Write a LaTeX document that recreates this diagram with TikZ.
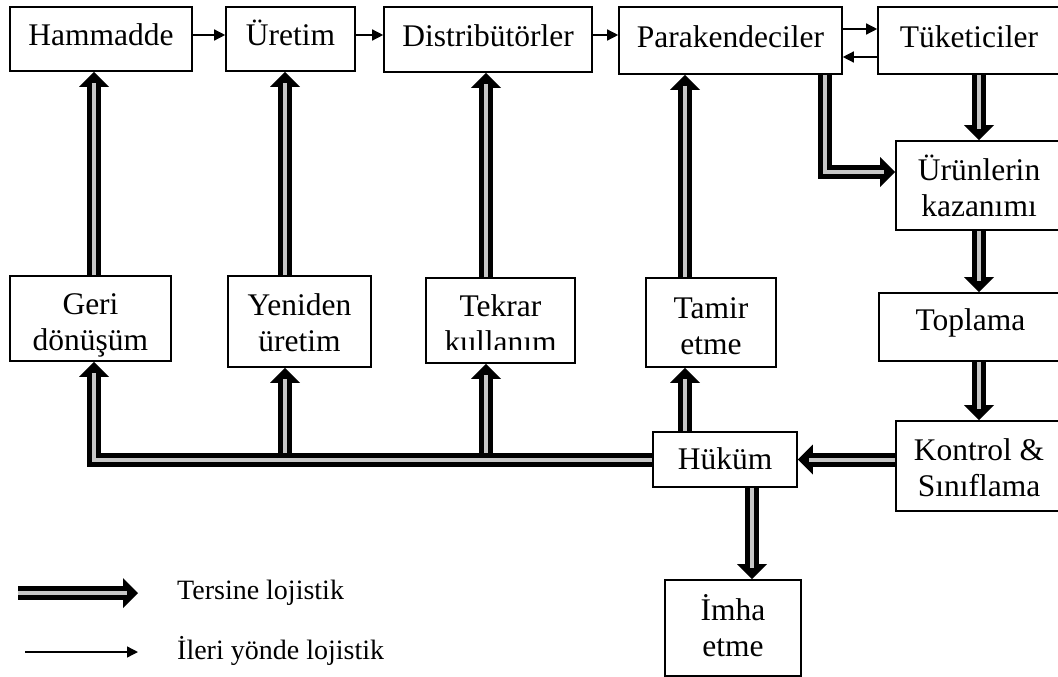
\documentclass[tikz,border=0pt]{standalone}
\usepackage{fontspec}
\setmainfont{Liberation Serif}
\usetikzlibrary{arrows.meta}
% reverse-logistics connector: black outer band with a grey core
\newcommand\revlink[1]{\draw[revout] #1; \draw[revin] #1;}
% two-line label; [#1] is the height above the first line, #2 the depth below the last
\newcommand\duoline[4][35pt]{\rule{0pt}{#1}#3\\#4\rule[-#2]{0pt}{#2}}
\begin{document}
\begin{tikzpicture}[x=1pt,y=-1pt,
  box/.style={draw=black, line width=1.6pt, fill=white, inner sep=0pt, align=center,
              font=\fontsize{31.5}{36}\selectfont},
  one/.style={text height=24pt, text depth=#1},
  one/.default=10pt,
  txt/.style={inner sep=0pt, align=center, font=\fontsize{31.5}{36}\selectfont},
  fwd/.style={line width=1.4pt, -{Triangle[length=11pt,width=11pt]}},
  revout/.style={line width=14pt, draw=black, -{Triangle[length=15pt,width=30pt,line width=0pt]}},
  revin/.style={line width=4pt, draw=gray!45, shorten >=11pt},
  lbl/.style={anchor=west, inner sep=0pt, font=\fontsize{28}{34}\selectfont}
]
\useasboundingbox (0,0) rectangle (1058,677);

% top row: forward chain
\node[box, one, minimum width=182pt, minimum height=64pt] (ham) at (101,39) {Hammadde};
\node[box, one, minimum width=129pt, minimum height=64pt] (ure) at (290.5,39) {Üretim};
\node[box, one, minimum width=208pt, minimum height=65pt] (dis) at (488,39.5) {Distribütörler};
\node[box, one, minimum width=223pt, minimum height=67pt] (par) at (730.5,40.5) {Parakendeciler};
\node[box, one, minimum width=182pt, minimum height=67pt] (tuk) at (969,40.5) {Tüketiciler};

% recovery options
\node[box, minimum width=161pt, minimum height=85pt] (geri) at (90.5,318.5) {\duoline{6pt}{Geri}{dönüşüm}};
\node[box, minimum width=143pt, minimum height=91pt] (yen) at (299.5,321.5) {\duoline{12pt}{Yeniden}{üretim}};
\node[box, minimum width=149pt, minimum height=85pt] (tek) at (500.5,320.5) {};
\begin{scope}
  \clip (tek.north west) rectangle ([yshift=14pt]tek.south east);
  \node[txt] (tektext) at (tek.center) {\duoline[30pt]{3pt}{Tekrar}{kullanım}};
\end{scope}
\node[box, minimum width=130pt, minimum height=89pt] (tam) at (711,322.5) {\duoline{8pt}{Tamir}{etme}};

% right-hand return chain
\node[box, minimum width=166pt, minimum height=89pt] (uru) at (979,185.5) {\duoline{10pt}{Ürünlerin}{kazanımı}};
\node[box, one=18pt, minimum width=183pt, minimum height=68pt] (top) at (970.5,327) {Toplama};
\node[box, minimum width=166pt, minimum height=90pt] (kon) at (979,466) {\duoline{11pt}{Kontrol \&}{Sınıflama}};
\node[box, one=5pt, minimum width=144pt, minimum height=55pt] (huk) at (725,459.5) {Hüküm};
\node[box, minimum width=136pt, minimum height=96pt] (imh) at (733,628) {\duoline{14pt}{İmha}{etme}};

% column and junction coordinates
\coordinate (xa) at (94,0);
\coordinate (xb) at (285,0);
\coordinate (xc) at (486,0);
\coordinate (xd) at (685,0);
\coordinate (xe) at (825,0);
\coordinate (xf) at (979,0);
\coordinate (xg) at (752,0);
\coordinate (bj) at (0,453);
\coordinate (pturn) at (0,172);

% forward flow
\draw[fwd] ([yshift=4pt]ham.east) -- ([yshift=4pt]ham.east -| ure.west);
\draw[fwd] ([yshift=4pt]ure.east) -- ([yshift=4pt]ure.east -| dis.west);
\draw[fwd] ([yshift=4.5pt]dis.east) -- ([yshift=4.5pt]dis.east -| par.west);
\draw[fwd] ([yshift=11.5pt]par.east) -- ([yshift=11.5pt]par.east -| tuk.west);
\draw[fwd] ([yshift=-16.5pt]tuk.west) -- ([yshift=-16.5pt]tuk.west -| par.east);

% reverse flow
\revlink{(geri.north -| xa) -- (ham.south -| xa)}
\revlink{(yen.north -| xb) -- (ure.south -| xb)}
\revlink{(tek.north -| xc) -- (dis.south -| xc)}
\revlink{(tam.north -| xd) -- (par.south -| xd)}
\revlink{(par.south -| xe) |- (uru.west |- pturn)}
\revlink{(tuk.south -| xf) -- (uru.north -| xf)}
\revlink{(uru.south -| xf) -- (top.north -| xf)}
\revlink{(top.south -| xf) -- (kon.north -| xf)}
\revlink{(kon.west |- huk.east) -- (huk.east)}
\revlink{(huk.west) -| (geri.south -| xa)}
\revlink{(bj -| xb) -- (yen.south -| xb)}
\revlink{(bj -| xc) -- (tek.south -| xc)}
\revlink{(huk.north -| xd) -- (tam.south -| xd)}
\revlink{(huk.south -| xg) -- (imh.north -| xg)}

% legend
\coordinate (la) at (18,593);
\coordinate (lb) at (138,593);
\coordinate (lc) at (25,652);
\coordinate (ld) at (138,652);
\revlink{(la) -- (lb)}
\draw[fwd] (lc) -- (ld);
\node[lbl] (legrev) at (177,593) {Tersine lojistik};
\node[lbl] (legfwd) at (177,651) {İleri yönde lojistik};
\end{tikzpicture}
\end{document}
